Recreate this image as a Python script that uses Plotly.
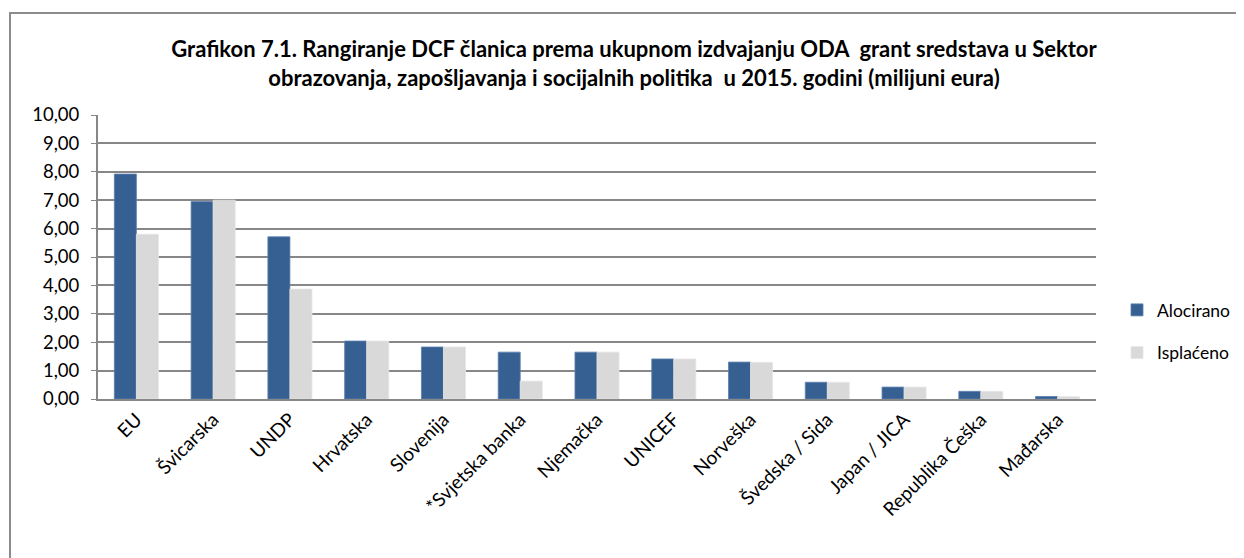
import plotly.graph_objects as go

categories = ["EU", "Švicarska", "UNDP", "Hrvatska", "Slovenija", "*Svjetska banka",
              "Njemačka", "UNICEF", "Norveška", "Švedska / Sida", "Japan / JICA",
              "Republika Češka", "Mađarska"]
alocirano = [7.92, 6.95, 5.71, 2.04, 1.83, 1.65, 1.65, 1.41, 1.30, 0.59, 0.42, 0.27, 0.09]
isplaceno = [5.80, 7.00, 3.87, 2.04, 1.83, 0.63, 1.65, 1.41, 1.29, 0.59, 0.42, 0.27, 0.08]
y_ticks = [0, 1, 2, 3, 4, 5, 6, 7, 8, 9, 10]

FONT = "Lato"
OFF = 8  # default body margin of the html page
W, H = 1244 - OFF, 558 - OFF
L, R, T, B = 98 - OFF, 1096 - OFF, 115 - OFF, 399 - OFF

fig = go.Figure()
fig.add_trace(go.Bar(name="Alocirano", x=categories, y=alocirano, legendgroup="a",
                     marker=dict(color="#376092", line=dict(color="#5a7fb0", width=0.8))))
fig.add_trace(go.Bar(name="Isplaćeno", x=categories, y=isplaceno, legendgroup="b",
                     marker=dict(color="#d9d9d9", line=dict(color="#e6e6e6", width=0.8))))

pw = R - L
ph = B - T
fig.add_shape(type="rect", xref="paper", yref="paper",
              x0=(10 - OFF - L) / pw, x1=(W + 20 - L) / pw,
              y0=(B - (H + 20)) / ph, y1=(B - (13 - OFF)) / ph,
              line=dict(color="#8c8c8c", width=2), fillcolor="rgba(0,0,0,0)", layer="below")

fig.update_layout(
    width=W, height=H,
    margin=dict(l=L, r=W - R, t=T, b=H - B, pad=0, autoexpand=False),
    paper_bgcolor="white", plot_bgcolor="white",
    barmode="group", bargap=0.426, bargroupgap=0,
    separators=",.",
    font=dict(family=FONT, size=18, color="black"),
    title=dict(
        text="<b>Grafikon 7.1. Rangiranje DCF članica prema ukupnom izdvajanju ODA  grant sredstava u Sektor<br>obrazovanja, zapošljavanja i socijalnih politika  u 2015. godini (milijuni eura)</b>",
        x=(634 - OFF) / W, xanchor="center", y=1 - (57 - OFF) / H, yanchor="top",
        font=dict(family=FONT, size=22, color="black")),
    xaxis=dict(tickangle=-45, showline=True, linecolor="#878787", linewidth=2,
               ticks="", tickfont=dict(family=FONT, size=19), showgrid=False, automargin=False),
    yaxis=dict(range=[0, 10], tickvals=y_ticks, tickformat=".2f", showgrid=True,
               gridcolor="#878787", gridwidth=1.5, showline=True, linecolor="#878787",
               linewidth=2, ticks="outside", ticklen=5, tickcolor="#878787",
               ticklabelstandoff=8, automargin=False,
               tickfont=dict(family=FONT, size=18.5), zeroline=False, mirror=False),
    legend=dict(x=(1117 - OFF - L) / pw, y=(B - (292 - OFF)) / ph, xanchor="left", yanchor="top",
                font=dict(family=FONT, size=17.5), traceorder="grouped", tracegroupgap=17,
                itemwidth=30, bgcolor="rgba(0,0,0,0)"),
    showlegend=True,
)

fig.write_html("out.html")
